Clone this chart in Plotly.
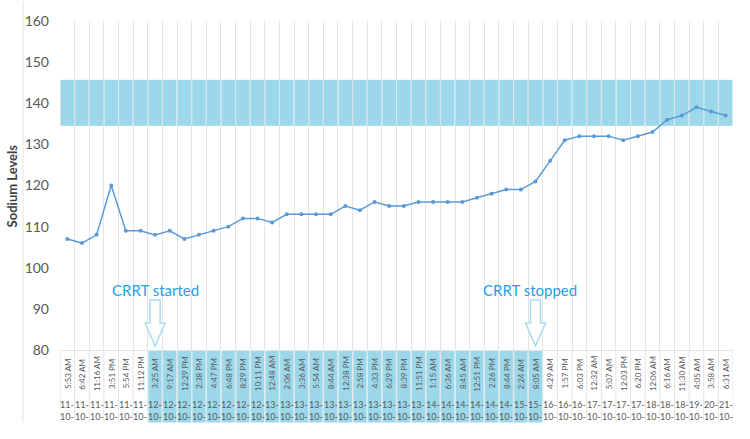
import plotly.graph_objects as go

times = ["5:53 AM", "6:42 AM", "11:16 AM", "3:51 PM", "5:54 PM", "11:12 PM",
         "3:25 AM", "9:17 AM", "12:29 PM", "2:38 PM", "4:47 PM", "6:48 PM", "8:29 PM", "10:11 PM",
         "12:48 AM", "2:06 AM", "3:36 AM", "5:54 AM", "8:44 AM", "12:38 PM", "2:58 PM", "4:33 PM",
         "6:29 PM", "8:39 PM", "11:51 PM",
         "1:15 AM", "6:36 AM", "8:45 AM", "12:51 PM", "2:26 PM", "8:44 PM",
         "2:24 AM", "8:05 AM",
         "4:29 AM", "1:57 PM", "6:03 PM",
         "12:32 AM", "5:07 AM", "12:03 PM", "6:20 PM",
         "12:06 AM", "6:16 AM", "11:30 AM",
         "4:05 AM", "3:58 AM", "6:31 AM"]
days = ["11"] * 6 + ["12"] * 8 + ["13"] * 11 + ["14"] * 6 + ["15"] * 2 + ["16"] * 3 + \
       ["17"] * 4 + ["18"] * 3 + ["19", "20", "21"]
months = ["10"] * 46
sodium = [107, 106, 108, 120, 109, 109, 108, 109, 107, 108, 109, 110, 112, 112, 111, 113,
          113, 113, 113, 115, 114, 116, 115, 115, 116, 116, 116, 116, 117, 118, 119, 119,
          121, 126, 131, 132, 132, 132, 131, 132, 133, 136, 137, 139, 138, 137]
normal_low = 134.5
normal_high = 145.7
crrt_start_idx = 6
crrt_stop_idx = 32
y_ticks = [80, 90, 100, 110, 120, 130, 140, 150, 160]

n = len(sodium)
idx = list(range(n))
BAND = "#9dd8ea"
GRID = "#e4e4e4"
TXT = "#595959"
FONT = "Lato"

fig = go.Figure()
fig.add_trace(go.Bar(x=idx, y=[normal_high - normal_low] * n, base=[normal_low] * n,
                     marker=dict(color=BAND, line=dict(width=0)), hoverinfo="skip",
                     showlegend=False))
fig.add_trace(go.Scatter(x=idx, y=sodium, mode="lines+markers",
                         line=dict(color="#5b9bd5", width=1.5),
                         marker=dict(size=4, color="#5b9bd5"), showlegend=False))

shapes = []
LAB_BOTTOM = -0.22
# grid lines below the axis (category boundaries)
for i in range(n + 1):
    shapes.append(dict(type="line", xref="x", yref="paper", x0=i - 0.5, x1=i - 0.5,
                       y0=LAB_BOTTOM, y1=0, line=dict(color=GRID, width=1), layer="below"))
# CRRT shading in label area
for i in range(crrt_start_idx, crrt_stop_idx + 1):
    shapes.append(dict(type="rect", xref="x", yref="paper", x0=i - 0.5 + 0.045, x1=i + 0.5 - 0.045,
                       y0=LAB_BOTTOM, y1=0, fillcolor=BAND, line=dict(width=0), layer="below"))
# left border line
shapes.append(dict(type="line", xref="paper", yref="paper", x0=-0.055, x1=-0.055,
                   y0=LAB_BOTTOM, y1=1.06, line=dict(color=GRID, width=1), layer="below"))
# hollow down arrows
arrow_path = "M -5 50 L 5 50 L 5 27 L 10 27 L 0 4 L -10 27 L -5 27 Z"
for ci in (crrt_start_idx, crrt_stop_idx):
    shapes.append(dict(type="path", xref="x", yref="y", xsizemode="pixel", ysizemode="pixel",
                       xanchor=ci, yanchor=80, path=arrow_path, fillcolor="white",
                       line=dict(color="#a9dcef", width=1.5), layer="above"))

annotations = []
for i in range(n):
    annotations.append(dict(x=i, y=-0.072, xref="x", yref="paper", text=times[i], textangle=-90,
                            showarrow=False, xanchor="center", yanchor="middle",
                            font=dict(family=FONT, size=8, color=TXT)))
    annotations.append(dict(x=i, y=-0.184, xref="x", yref="paper",
                            text=f"{days[i]}-<br>{months[i]}-", showarrow=False,
                            xanchor="center", yanchor="middle",
                            font=dict(family=FONT, size=9, color=TXT)))
annotations.append(dict(x=crrt_start_idx, y=94.7, xref="x", yref="y", text="CRRT started",
                        showarrow=False, font=dict(family=FONT, size=15, color="#1fa0e5")))
annotations.append(dict(x=crrt_stop_idx - 0.4, y=94.7, xref="x", yref="y", text="CRRT stopped",
                        showarrow=False, font=dict(family=FONT, size=15, color="#1fa0e5")))
annotations.append(dict(x=-0.0715, y=0.5, xref="paper", yref="paper", text="<b>Sodium Levels</b>",
                        textangle=-90, showarrow=False, xanchor="center", yanchor="middle",
                        font=dict(family=FONT, size=13, color="#404040")))

fig.update_layout(
    width=750, height=439,
    margin=dict(l=60, r=17, t=18, b=89),
    paper_bgcolor="white", plot_bgcolor="white",
    bargap=0.07,
    shapes=shapes, annotations=annotations,
    xaxis=dict(range=[-0.5, n - 0.5], tickvals=[i - 0.5 for i in range(n + 1)],
               showticklabels=False, showgrid=True, gridcolor=GRID, gridwidth=1,
               zeroline=False, showline=True, linecolor=GRID, linewidth=1, ticks=""),
    yaxis=dict(range=[80, 160], tickvals=y_ticks, showgrid=False, zeroline=False,
               showline=False, ticks="", ticklabelstandoff=10,
               tickfont=dict(family=FONT, size=14, color=TXT)),
)
fig.write_html("out.html")
